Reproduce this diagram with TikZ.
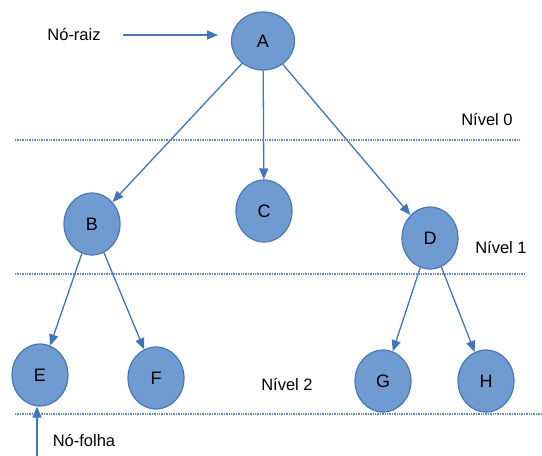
\documentclass[tikz,border=0pt]{standalone}
\usepackage{fontspec}
\setmainfont{Liberation Sans}
\usetikzlibrary{arrows.meta,shapes.geometric}
\definecolor{preen}{HTML}{6F9BD1}
\definecolor{borda}{HTML}{4A78B5}
\definecolor{seta}{HTML}{4275BA}
\tikzset{no/.style={ellipse,draw=borda,fill=preen,line width=1.2pt,minimum width=56pt,minimum height=62pt,inner sep=0pt,font=\fontsize{18}{21}\selectfont},
 ramo/.style={draw=seta,line width=1.3pt,-{Triangle[length=11pt,width=9pt]}},
 nivel/.style={draw=seta!85,line width=1.3pt,dash pattern=on 1.4pt off 1pt},
 rotulo/.style={font=\fontsize{16.5}{19}\selectfont,inner sep=0pt}}

\begin{document}
\begin{tikzpicture}[x=1pt,y=-1pt]
\useasboundingbox (0,0) rectangle (542,456);
% nos da arvore
\node[no,minimum width=63pt,minimum height=58pt] (A) at (263,41) {A};
\node[no] (B) at (92,224) {B};
\node[no] (C) at (264,211) {C};
\node[no] (D) at (430,238) {D};
\node[no] (E) at (40,375) {E};
\node[no] (F) at (156,378) {F};
\node[no] (G) at (383,381) {G};
\node[no] (H) at (486,381) {H};
\foreach \a/\b in {A/B,A/C,A/D,B/E,B/F,D/G,D/H}
 \draw[ramo] (\a) -- (\b);
% niveis
\draw[nivel] (15,140) -- (520,140);
\draw[nivel] (15,274) -- (525,274);
\draw[nivel] (15,414) -- (542,414);
\node[rotulo] (n0) at (487,120) {Nível 0};
\node[rotulo] (n1) at (501,248) {Nível 1};
\node[rotulo] (n2) at (287,385) {Nível 2};
% rotulos laterais
\node[rotulo] (raiz) at (74,35) {Nó-raiz};
\coordinate (raizfim) at (218,35);
\draw[ramo,shorten <=22pt] (raiz.east) -- (raizfim);
\node[rotulo] (folha) at (84,440) {Nó-folha};
\coordinate (folhaini) at (37,456);
\draw[ramo] (folhaini) -- (folhaini |- E.south);
\end{tikzpicture}
\end{document}
